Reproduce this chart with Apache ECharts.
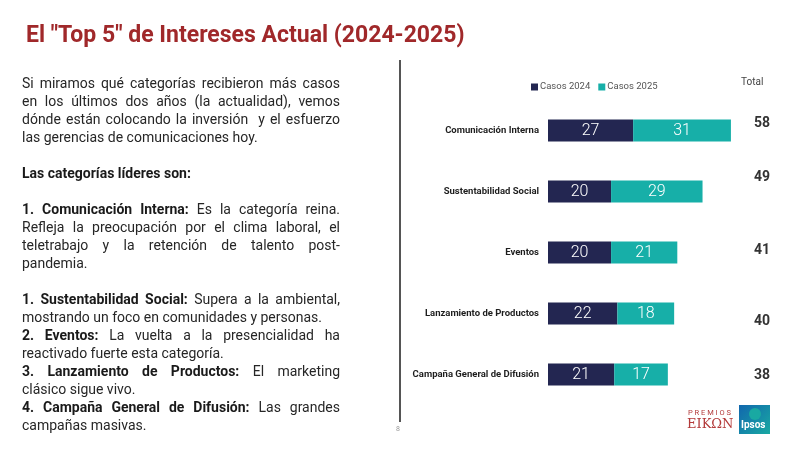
<!DOCTYPE html>
<html>
<head>
<meta charset="utf-8">
<script src="https://cdn.jsdelivr.net/npm/echarts@6/dist/echarts.min.js"></script>
<style>
html,body{margin:0;padding:0;background:#fff;}
#chart{position:absolute;left:0;top:0;width:800px;height:450px;}
#txt{position:absolute;left:22px;top:74px;width:318px;font-family:Roboto,"Noto Sans",sans-serif;font-size:14px;line-height:18px;color:#262626;}
#txt div{white-space:nowrap;}
#txt div.j{text-align:justify;text-align-last:justify;white-space:normal;}
#txt b{font-weight:700;color:#1a1a1a;}
</style>
</head>
<body>
<div id="chart"></div>
<div id="txt"></div>
<script>
const categories = ["Comunicación Interna","Sustentabilidad Social","Eventos","Lanzamiento de Productos","Campaña General de Difusión"];
const casos2024 = [27,20,20,22,21];
const casos2025 = [31,29,21,18,17];
const totals = [58,49,41,40,38];
const seriesNames = ["Casos 2024","Casos 2025"];

const textLines = [
  ["j","Si miramos qué categorías recibieron más casos"],
  ["j","en los últimos dos años (la actualidad), vemos"],
  ["j","dónde están colocando la inversión&nbsp; y el esfuerzo"],
  ["","las gerencias de comunicaciones hoy."],
  ["","&nbsp;"],
  ["","<b>Las categorías líderes son:</b>"],
  ["","&nbsp;"],
  ["j","<b>1. Comunicación Interna:</b> Es la categoría reina."],
  ["j","Refleja la preocupación por el clima laboral, el"],
  ["j","teletrabajo y la retención de talento post-"],
  ["","pandemia."],
  ["","&nbsp;"],
  ["j","<b>1. Sustentabilidad Social:</b> Supera a la ambiental,"],
  ["","mostrando un foco en comunidades y personas."],
  ["j","<b>2. Eventos:</b> La vuelta a la presencialidad ha"],
  ["","reactivado fuerte esta categoría."],
  ["j","<b>3. Lanzamiento de Productos:</b> El marketing"],
  ["","clásico sigue vivo."],
  ["j","<b>4. Campaña General de Difusión:</b> Las grandes"],
  ["","campañas masivas."]
];
document.getElementById('txt').innerHTML = textLines.map(l => '<div class="'+l[0]+'">'+l[1]+'</div>').join('');

// vertical nudges of the total labels (layout only)
const totalShift = [-7,-14,-2,8,1];
const rich = {};
totalShift.forEach((s,i)=>{
  rich['t'+i] = {fontSize:14,fontWeight:'bold',color:'#333',fontFamily:'Roboto',
    padding: s<0 ? [0,0,-2*s,0] : [2*s,0,0,0]};
});

const chart = echarts.init(document.getElementById('chart'));
chart.setOption({
  animation:false,
  title:{text:'El "Top 5" de Intereses Actual (2024-2025)',left:21,top:20,
    textStyle:{color:'#A0282A',fontSize:23,fontWeight:'bold',fontFamily:'Roboto'}},
  legend:{data:seriesNames,left:526,top:77,itemWidth:7,itemHeight:7,itemGap:8,icon:'rect',
    textStyle:{fontSize:9.5,color:'#555',fontFamily:'Roboto',padding:[0,0,0,-3]}},
  grid:{left:548,right:47,top:100,bottom:45},
  xAxis:{type:'value',min:0,max:65,show:false},
  yAxis:[{type:'category',data:categories,inverse:true,
    axisLine:{show:false},axisTick:{show:false},
    axisLabel:{margin:9,fontSize:9.5,fontWeight:'bold',color:'#1e1e1e',fontFamily:'Roboto'}},
   {type:'category',data:totals,inverse:true,position:'right',
    axisLine:{show:false},axisTick:{show:false},
    axisLabel:{margin:1,align:'left',formatter:(v,i)=>'{t'+i+'|'+v+'}',rich:rich}}],
  series:[
    {name:seriesNames[0],type:'bar',stack:'a',data:casos2024,barWidth:22,
     itemStyle:{color:'#232651'},
     label:{show:true,position:'inside',color:'#fff',fontSize:16,fontWeight:300,fontFamily:'Roboto'}},
    {name:seriesNames[1],type:'bar',stack:'a',data:casos2025,barWidth:22,
     itemStyle:{color:'#17AFA8'},
     label:{show:true,position:'inside',color:'#fff',fontSize:16,fontWeight:300,fontFamily:'Roboto'}}
  ],
  graphic:[
    {type:'text',left:741,top:77,style:{text:'Total',fontSize:10,fill:'#444',fontFamily:'Roboto'}},
    {type:'line',shape:{x1:400,y1:60,x2:400,y2:422},style:{stroke:'#555',lineWidth:2}},
    {type:'text',left:396,top:426,style:{text:'8',fontSize:7,fill:'#999',fontFamily:'Roboto'}},
    {type:'text',left:688,top:409,style:{text:'P R E M I O S',fontSize:7.5,fill:'#B33A3A',fontFamily:'Roboto'}},
    {type:'text',left:687,top:418,style:{text:'EIKΩN',fontSize:13,fill:'#B33A3A',fontFamily:'DejaVu Serif'}},
    {type:'rect',shape:{x:739,y:405,width:31,height:29},
     style:{fill:new echarts.graphic.LinearGradient(0,0,1,1,[{offset:0,color:'#1167AE'},{offset:1,color:'#19A9A2'}])}},
    {type:'circle',shape:{cx:755,cy:414,r:6},style:{fill:'#19A9A2'}},
    {type:'text',left:741,top:420,style:{text:'Ipsos',fontSize:10,fontWeight:'bold',fill:'#fff',fontFamily:'Roboto'}}
  ]
});
</script>
</body>
</html>
